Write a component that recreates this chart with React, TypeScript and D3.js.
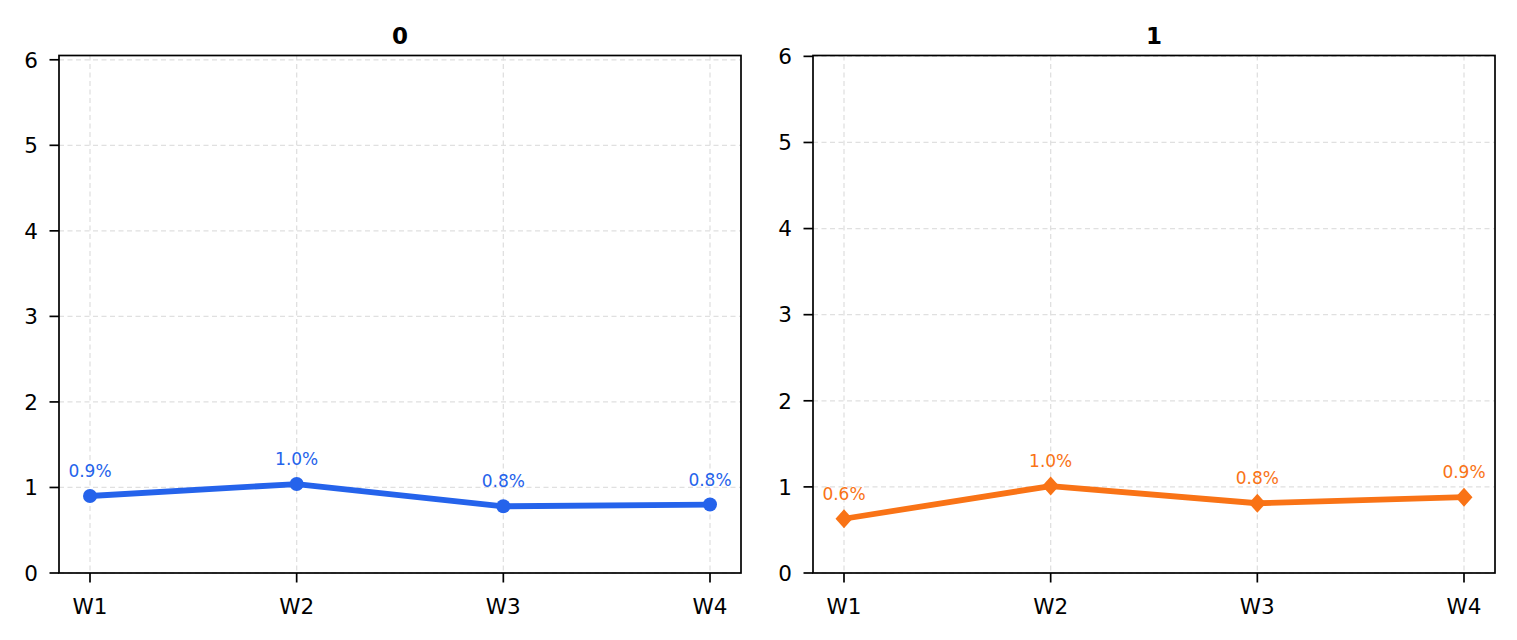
import * as d3 from "d3";

const categories = ["W1", "W2", "W3", "W4"];
const panelTitles = ["0", "1"];
const seriesA = [0.9, 1.04, 0.78, 0.8];
const seriesB = [0.63, 1.01, 0.81, 0.88];
const yTicks = [0, 1, 2, 3, 4, 5, 6];
const yMax = [6.05, 6.01];

const W = 1517;
const H = 640;
const font = "DejaVu Sans, sans-serif";
const fmt = (v: number) => d3.format(".1f")(v) + "%";

const Panel = ({
  left,
  title,
  values,
  color,
  marker,
  top,
}: {
  left: number;
  title: string;
  values: number[];
  color: string;
  marker: "circle" | "diamond";
  top: number;
}) => {
  const width = 682;
  const y0 = 55.5;
  const y1 = 573;
  const x = d3
    .scaleLinear()
    .domain([-0.15, categories.length - 1 + 0.15])
    .range([left, left + width]);
  const y = d3.scaleLinear().domain([0, top]).range([y1, y0]);
  const line = d3
    .line<number>()
    .x((_, i) => x(i))
    .y((d) => y(d));
  const grid = "#e0e0e0";
  return (
    <g>
      {yTicks.map((t) => (
        <line
          key={"gy" + t}
          x1={left}
          x2={left + width}
          y1={y(t)}
          y2={y(t)}
          stroke={grid}
          strokeWidth={1.3}
          strokeDasharray="5,3.5"
        />
      ))}
      {categories.map((c, i) => (
        <line
          key={"gx" + c}
          x1={x(i)}
          x2={x(i)}
          y1={y0}
          y2={y1}
          stroke={grid}
          strokeWidth={1.3}
          strokeDasharray="5,3.5"
        />
      ))}
      <path
        d={line(values) ?? ""}
        fill="none"
        stroke={color}
        strokeWidth={5.8}
        strokeLinejoin="round"
      />
      {values.map((v, i) =>
        marker === "circle" ? (
          <circle key={"m" + i} cx={x(i)} cy={y(v)} r={7} fill={color} />
        ) : (
          <path
            key={"m" + i}
            d={`M${x(i)},${y(v) - 9.5}L${x(i) + 8.5},${y(v)}L${x(i)},${y(v) + 9.5}L${x(i) - 8.5},${y(v)}Z`}
            fill={color}
          />
        )
      )}
      {values.map((v, i) => (
        <text
          key={"l" + i}
          x={x(i)}
          y={y(v) - 19}
          textAnchor="middle"
          fontSize={17}
          fill={color}
          fontFamily={font}
        >
          {fmt(v)}
        </text>
      ))}
      <rect
        x={left}
        y={y0}
        width={width}
        height={y1 - y0}
        fill="none"
        stroke="#000"
        strokeWidth={1.7}
      />
      {yTicks.map((t) => (
        <g key={"ty" + t}>
          <line x1={left - 9.5} x2={left} y1={y(t)} y2={y(t)} stroke="#000" strokeWidth={1.7} />
          <text
            x={left - 21}
            y={y(t)}
            dy="0.36em"
            textAnchor="end"
            fontSize={21.5}
            fontFamily={font}
          >
            {t}
          </text>
        </g>
      ))}
      {categories.map((c, i) => (
        <g key={"tx" + c}>
          <line x1={x(i)} x2={x(i)} y1={y1} y2={y1 + 9.5} stroke="#000" strokeWidth={1.7} />
          <text
            x={x(i)}
            y={y1 + 40.5}
            textAnchor="middle"
            fontSize={21.5}
            fontFamily={font}
          >
            {c}
          </text>
        </g>
      ))}
      <text
        x={left + width / 2}
        y={43.5}
        textAnchor="middle"
        fontSize={23}
        fontWeight="bold"
        fontFamily={font}
      >
        {title}
      </text>
    </g>
  );
};

export default function App() {
  return (
    <svg
      width={W}
      height={H}
      style={{ position: "absolute", left: 0, top: 0, background: "#fff" }}
    >
      <rect width={W} height={H} fill="#fff" />
      <Panel left={59} title={panelTitles[0]} values={seriesA} color="#2563eb" marker="circle" top={yMax[0]} />
      <Panel left={813} title={panelTitles[1]} values={seriesB} color="#f97316" marker="diamond" top={yMax[1]} />
    </svg>
  );
}
